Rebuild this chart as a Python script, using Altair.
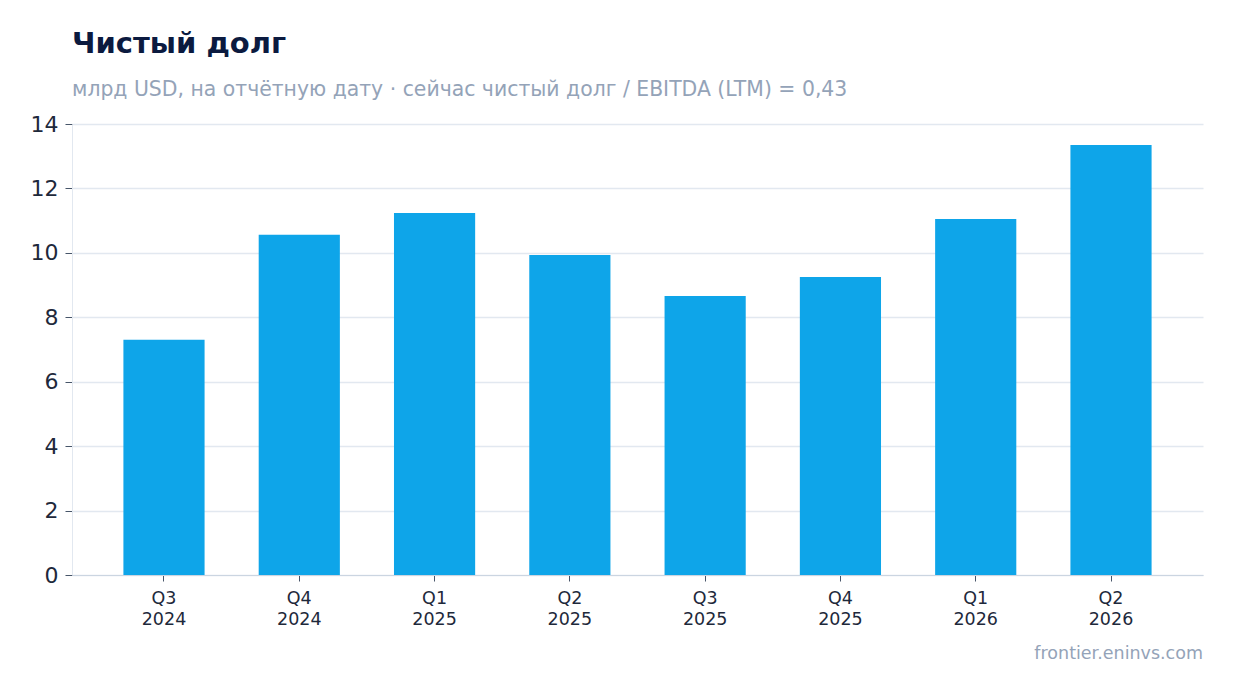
import altair as alt
import pandas as pd

quarters = ["Q3 2024", "Q4 2024", "Q1 2025", "Q2 2025", "Q3 2025", "Q4 2025", "Q1 2026", "Q2 2026"]
net_debt = [7.30, 10.56, 11.24, 9.93, 8.66, 9.25, 11.05, 13.35]
y_ticks = [0, 2, 4, 6, 8, 10, 12, 14]

title_text = "Чистый долг"
subtitle_text = "млрд USD, на отчётную дату · сейчас чистый долг / EBITDA (LTM) = 0,43"
source_text = "frontier.eninvs.com"

df = pd.DataFrame({"q": quarters, "v": net_debt})

W, H = 1131, 451
FONT = "DejaVu Sans"

bars = alt.Chart(df).mark_bar(color="#0EA5E9").encode(
    x=alt.X("q:N", sort=quarters, title=None,
            scale=alt.Scale(paddingInner=0.4, paddingOuter=0.38),
            axis=alt.Axis(labelExpr="split(datum.label, ' ')", labelAngle=0,
                          labelFontSize=17.5, labelLineHeight=21, labelColor="#1E293B",
                          labelPadding=8, tickColor="#475569", tickSize=6,
                          domainColor="#CBD5E1", grid=False, labelFont=FONT)),
    y=alt.Y("v:Q", title=None,
            scale=alt.Scale(domain=[0, 14], nice=False),
            axis=alt.Axis(values=y_ticks, labelFontSize=22, labelColor="#1E293B",
                          labelPadding=7, tickColor="#475569", tickSize=7,
                          domainColor="#E2E8F0", gridColor="#E2E8F0", gridWidth=1.5,
                          labelFont=FONT)),
)

src = alt.Chart(pd.DataFrame({"t": [source_text]})).mark_text(
    align="right", baseline="alphabetic", fontSize=17.5, color="#94A3B8", font=FONT
).encode(text="t:N", x=alt.value(W), y=alt.value(H + 84))

chart = (bars + src).properties(
    width=W, height=H,
    view=alt.ViewBackground(stroke="transparent", strokeWidth=0),
    padding={"left": 64, "top": 116, "right": 23, "bottom": 100},
    autosize=alt.AutoSizeParams(type="none"),
    title=alt.TitleParams(
        text=title_text, subtitle=subtitle_text, anchor="start", frame="group",
        font=FONT, fontSize=29, fontWeight="bold", color="#0B1A3F",
        subtitleFont=FONT, subtitleFontSize=20.4, subtitleColor="#94A3B8",
        subtitlePadding=21, offset=13,
    ),
).configure_view(strokeWidth=0, stroke="transparent").configure(background="white")

chart.save("out.html", embed_options={"renderer": "svg", "actions": False})
